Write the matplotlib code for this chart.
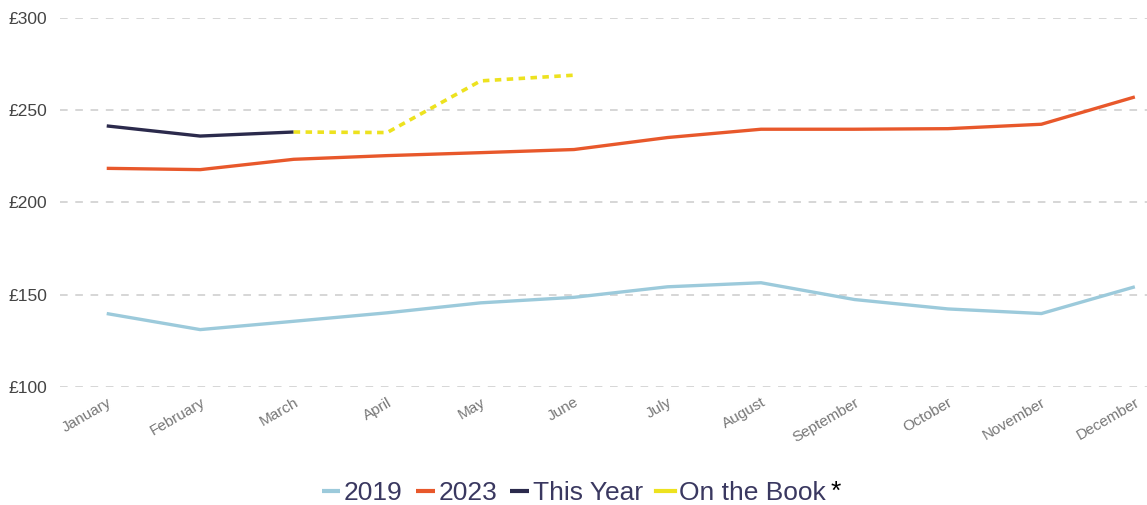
import matplotlib
matplotlib.use("Agg")
from matplotlib import pyplot

months = ["January", "February", "March", "April", "May", "June", "July",
          "August", "September", "October", "November", "December"]

y2019 = [139.8, 131.1, 135.6, 140.2, 145.6, 148.6, 154.3, 156.5, 147.4, 142.3, 139.8, 154.3]
y2023 = [218.5, 217.8, 223.4, 225.4, 227.0, 228.7, 235.2, 239.7, 239.7, 240.0, 242.4, 257.2]
this_year = [241.5, 236.0, 238.2]
on_book = [238.2, 237.9, 265.9, 269.0]   # March..June

yticks = [100, 150, 200, 250, 300]

pyplot.rcParams['font.family'] = ['Liberation Sans', 'DejaVu Sans']

fig = pyplot.figure(figsize=(11.47, 5.05), dpi=100)
ax = fig.add_axes([0.0523, 0.2337, 0.9477, 0.7307])

x = list(range(len(months)))
ax.plot(x, y2019, color='#9ccadb', lw=2.4, label='2019', clip_on=False, solid_capstyle='butt')
ax.plot(x, y2023, color='#e8582b', lw=2.4, label='2023', clip_on=False, solid_capstyle='butt')
ax.plot(x[:3], this_year, color='#2b2a4c', lw=2.4, label='This Year', clip_on=False, solid_capstyle='butt')
ax.plot(x[2:6], on_book, color='#ede21f', lw=2.6, ls=(0, (1.8, 1.5)), label='On the Book', clip_on=False)

ax.set_xlim(-0.5, 11.13)
ax.set_ylim(100, 300)
ax.set_yticks(yticks)
ax.set_yticklabels(['£{}'.format(v) for v in yticks], fontsize=12.5, color='#444444')
ax.set_xticks(x)
ax.set_xticklabels(months, fontsize=11, color='#777777', rotation=30,
                   ha='right', rotation_mode='anchor')
ax.tick_params(axis='both', length=0)
ax.tick_params(axis='y', pad=9)
ax.tick_params(axis='x', pad=6)

ax.grid(axis='y', color='#cccccc', lw=1.1, ls=(0, (5, 5)))
ax.set_axisbelow(True)
for s in ax.spines.values():
    s.set_visible(False)

leg = fig.legend(loc='center', bbox_to_anchor=(0.5, 0.024), ncol=4, frameon=False,
                 fontsize=19, handlelength=0.7, handletextpad=0.15, columnspacing=0.5,
                 labelcolor='#3a3860')
for h in leg.legend_handles:
    h.set_linestyle('-')
    h.set_linewidth(3)

fig.canvas.draw()
bb = leg.get_window_extent().transformed(fig.transFigure.inverted())
fig.text(bb.x1 - 0.005, 0.026, '*', fontsize=19, color='black', va='center', ha='left')

pyplot.savefig('out.png', dpi=100)
